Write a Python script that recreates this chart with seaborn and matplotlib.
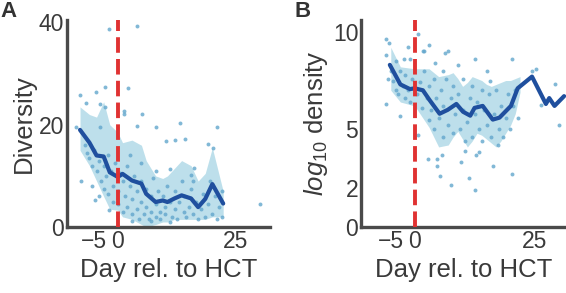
import pandas as pd
import matplotlib
matplotlib.use("Agg")
import matplotlib.pyplot as plt
import seaborn as sns

# ---- panel A: diversity ----
a_pts_x = [-1.8, 4.1, -7.9, -6.8, -4.7, -2.8, -3.8, -2.8, 2.2, 1.3, 1.3, 5.2, -8.8, -3.8, 4.0,
           8.1, 13.1, 10.2, 12.1, 14.2, 19.1, 20.2, 21.0, -7.8, -4.9, -1.8, 30.1, 11.0, 16.2, 15.4,
           -7, -6.5, -6, -5.5, -5, -4.5, -4, -3.5, -3, -3, -2.5, -2, -2, -1.5, -1, -1, -0.5, 0, 0,
           0.5, 1, 1, 1.5, 2, 2, 2.5, 3, 3, 3.5, 4, 4, 4.5, 5, 5, 5.5, 6, 6, 6.5, 7, 7, 7.5, 8, 8,
           8.5, 9, 9, 9.5, 10, 10, 10.5, 11, 11.5, 12, 12, 12.5, 13, 13.5, 14, 14, 14.5, 15, 15.5,
           16, 16.5, 17, 17.5, 18, 18.5, 19, 19.5, 20, 20.5, 21, 21.5, 22, 22, -5.5, -4, 2.5, 5, 8,
           16, 11, 3, 7]
a_pts_y = [38.8, 39.4, 25.8, 24.3, 26.5, 27.4, 24.1, 23.5, 27.1, 22.6, 22.1, 22.2, 19.6, 19.6, 19.8,
           19.6, 20.3, 16.8, 17.0, 17.2, 16.2, 15.4, 19.5, 9.1, 5.2, 3.3, 4.6, 11.4, 11.5, 10.1,
           16, 14.5, 13.5, 12, 15, 11, 13, 9, 12, 7.5, 10, 14, 6.5, 11, 8, 5, 12.5, 7, 4.5,
           10.5, 9, 3, 6, 12, 4, 8, 2.5, 5.5, 10, 7, 3.5, 1.5, 5, 9, 2.5, 4, 7.5, 1.5, 6, 3, 9.5, 2, 4.5,
           7, 3, 1.5, 6, 4, 2.5, 8, 5, 2, 3.5, 7, 1.5, 5, 9, 3, 6, 2, 4, 7.5,
           2.5, 5, 1.5, 3.5, 6.5, 2, 4.5, 9, 2.5, 6, 1.5, 4, 2, 7, 8, 6, 14, 12.5, 11,
           9, 1, 1.2, 1.2]
a_day = [-8, -6, -4.5, -3, -1.7, 0, 1, 3, 5, 6, 8, 9.5, 10.5, 12, 13.5, 15.5, 17, 18.5, 20, 22.3]
a_mean = [19, 16.5, 14, 13.8, 10.7, 9.8, 10.4, 9.1, 8.5, 6.5, 4.9, 5.2, 4.9, 5.6, 6.2, 5.6, 3.9, 5.5, 8.4, 4.6]
a_upper = [23.5, 22, 21.5, 24.5, 20, 18.5, 16.5, 17, 16, 13, 10, 9.5, 10, 11.5, 13, 12, 9, 10.5, 15.5, 7]
a_lower = [15, 12, 9, 6, 3.5, 3.3, 2, 1.5, 0.5, 0, 0.5, 1, 1, 1.5, 1.5, 1.5, 1.5, 1.5, 2, 2]

# ---- panel B: log10 density ----
b_pts_x = [-6, -5.4, -6, -3.1, -1.4, -2.3, 0.7, 1.8, 0.7, 2.8, 4.7, 4.7, 5.8, 5.2, 7.6, 9.7, 10.6,
           11.4, 12.5, 12.7, 13.5, 16.3, 17.3, 20.3, 20.3, 4.2, 6.3, 7.0, 12.5, 24.6, 25.4, 26.3,
           29.2, 30.1, 15.8,
           -5, -4.5, -4, -4, -3.5, -3, -2.5, -2, -2, -1.5, -1, -0.5, 0.5, 1, 1.5, 2, 2.5, 3, 3, 3.5,
           4, 4, 4.5, 5, 5.5, 6, 6, 6.5, 7, 7.5, 8, 8, 8.5, 9, 9.5, 10, 10, 10.5, 11, 11.5, 12, 12,
           12.5, 13, 13.5, 14, 14, 14.5, 15, 15.5, 16, 16.5, 17, 17.5, 18, 18.5, 19, 19.5, 20, 20.5,
           21, 21.5, -6, -5.5, -1, 2, 6, 9, 15, 3]
b_pts_y = [9.6, 9.4, 6.3, 5.7, 9.2, 8.6, 9.9, 9.0, 4.7, 3.5, 3.5, 3.1, 3.7, 2.6, 2.15, 3.35, 3.9,
           2.5, 1.9, 3.7, 3.85, 3.1, 4.2, 2.7, 8.6, 8.4, 8.9, 9.0, 8.6, 8.0, 8.1, 6.26,
           7.3, 5.2, 7.5,
           8, 7.5, 8.5, 7, 6.8, 8, 7.2, 6.6, 7.8, 7, 6.4, 7.6, 6.8, 7.4, 6.1, 8, 6.6, 7.2, 5.5, 6,
           7.6, 5, 6.6, 5.6, 7, 4.6, 6.2, 7.6, 5.2, 6.6, 4.8, 7.2, 5.8, 6.8, 5, 6, 7.6, 4.4, 5.4, 6.6, 4.6, 7.2,
           5.8, 6.4, 5, 7, 4.4, 6, 5.2, 6.8, 4.6, 5.8, 7, 5, 6.2, 4.6, 5.6, 6.8, 5, 6.2,
           7, 5.6, 8.8, 7.6, 8.6, 9, 8, 8.3, 8.0, 9.3]
b_day = [-5.2, -3, -1, 0, 1.7, 3.1, 5.2, 6.9, 8.7, 10.1, 11.6, 12.5, 14.2, 16.3, 17.7, 20.1, 21.5,
         24.5, 27.4, 28.1, 29.2, 31.2]
b_mean = [8.3, 7.3, 7.06, 7.1, 7.0, 6.5, 5.8, 6.0, 6.3, 5.9, 5.7, 6.1, 6.2, 5.5, 5.6, 6.2, 7.1,
          7.7, 6.3, 6.6, 6.2, 6.7]
b_band_day = [-5, -3, 0, 3, 5, 7, 8, 9, 10, 11, 12, 13, 14, 15, 16, 17, 18, 19, 20, 21, 22]
b_upper = [9.2, 8.2, 8.1, 8.1, 7.7, 7.8, 7.9, 7.6, 7.2, 7.4, 7.7, 7.6, 7.5, 7.3, 7.2, 7.3, 7.4, 7.5, 7.5, 7.6, 7.7]
b_lower = [7.0, 6.4, 6.2, 5.1, 4.1, 4.2, 4.6, 4.9, 4.5, 4.1, 4.4, 4.8, 4.7, 4.5, 4.3, 4.1, 4.4, 4.8, 5.2, 5.8, 6.9]

sns.set_theme(style="white")
plt.rcParams['font.family'] = ['Liberation Sans', 'DejaVu Sans']
plt.rcParams['mathtext.fontset'] = 'custom'
plt.rcParams['mathtext.it'] = 'Liberation Sans:italic'
plt.rcParams['mathtext.rm'] = 'Liberation Sans'

dot_color = '#62a6cc'
band_color = '#add8e6'
line_color = '#1f4f9e'
red = '#e03232'
spine_color = '#4a4a4a'
text_color = '#3a3a3a'

fig = plt.figure(figsize=(5.66, 2.93), dpi=100)
ax_a = fig.add_axes([0.118, 0.225, 0.359, 0.707])
ax_b = fig.add_axes([0.638, 0.225, 0.362, 0.707])

panels = [
    (ax_a, a_pts_x, a_pts_y, a_day, a_mean, a_day, a_upper, a_lower, 'Diversity', (-10.8, 32.2), (0, 40.5), [0, 20, 40], 'A'),
    (ax_b, b_pts_x, b_pts_y, b_day, b_mean, b_band_day, b_upper, b_lower, '$log_{10}$ density', (-11.2, 31.6), (0, 10.6), [0, 2, 5, 10], 'B'),
]

for ax, px, py, dx, dm, bx, bu, bl, ylab, xl, yl, yt, tag in panels:
    ax.fill_between(bx, bl, bu, color=band_color, alpha=0.8, lw=0, zorder=1)
    sns.scatterplot(x=px, y=py, ax=ax, color=dot_color, s=8, alpha=0.8, linewidth=0, zorder=2)
    sns.lineplot(x=dx, y=dm, ax=ax, color=line_color, lw=3, zorder=3)
    ax.axvline(0, color=red, lw=2.8, ls=(0, (4, 1.6)), zorder=4)
    ax.set_xlim(*xl)
    ax.set_ylim(*yl)
    ax.set_xticks([-5, 0, 25])
    ax.set_xticklabels(['\u22125', '0', '25'])
    ax.set_yticks(yt)
    ax.tick_params(labelsize=16.5, colors=text_color, pad=2, length=0)
    ax.set_xlabel('Day rel. to HCT', fontsize=18.5, color=text_color, labelpad=4)
    ax.set_ylabel(ylab, fontsize=18.5, color=text_color, labelpad=2)
    sns.despine(ax=ax)
    for s in ['left', 'bottom']:
        ax.spines[s].set_color(spine_color)
        ax.spines[s].set_linewidth(2.4)

fig.text(0.0, 0.995, 'A', fontsize=16, fontweight='bold', color='#333333', va='top')
fig.text(0.52, 0.995, 'B', fontsize=16, fontweight='bold', color='#333333', va='top')

fig.savefig('out.png', dpi=100)
